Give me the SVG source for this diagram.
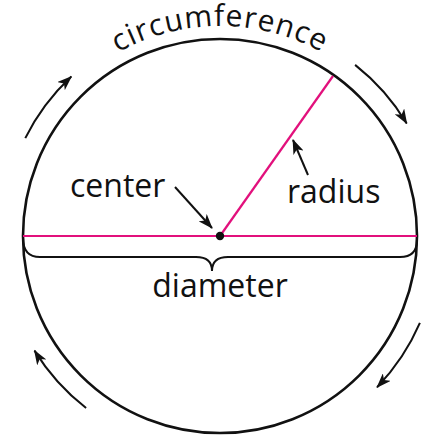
<svg xmlns="http://www.w3.org/2000/svg" width="442" height="442" viewBox="0 0 442 442">
<style>
.lbl{font-family:"Open Sans","Noto Sans","Liberation Sans",sans-serif;font-size:32px;fill:#111}
.arc{font-size:30px;letter-spacing:1px}
.blk{fill:none;stroke:#111;stroke-width:2}
.mag{fill:none;stroke:#e2107c;stroke-width:2.2}
</style>
<defs>
<marker id="ah" viewBox="0 0 15 11" refX="14" refY="5.5" markerWidth="15" markerHeight="11" markerUnits="userSpaceOnUse" orient="auto">
<path d="M0,0 L15,5.5 L0,11 L4,5.5 Z" fill="#111"/>
</marker>
<path id="circPath" d="M10,236 A210,210 0 0 1 430,236"/>
</defs>
<rect width="442" height="442" fill="#fff"/>
<g id="circle">
<circle cx="220" cy="236" r="197" fill="none" stroke="#111" stroke-width="2.6"/>
</g>
<g id="diameter">
<line class="mag" x1="23" y1="236" x2="417" y2="236"/>
<path class="blk" d="M23,238 Q23,257 40,257 H196 Q212,257 212,271 Q212,257 228,257 H400 Q417,257 417,240"/>
<text class="lbl" x="220" y="297" text-anchor="middle">diameter</text>
</g>
<g id="radius">
<line class="mag" x1="220" y1="236" x2="333" y2="76"/>
<text class="lbl" x="287" y="203">radius</text>
</g>
<g id="center">
<circle cx="220" cy="236" r="4.2" fill="#111"/>
<text class="lbl" x="70" y="197">center</text>
</g>
<g id="circumference">
<text class="lbl arc"><textPath href="#circPath" startOffset="50%" text-anchor="middle">circumference</textPath></text>
</g>
<g id="connectors">
<line class="blk" x1="175" y1="187" x2="212" y2="228" marker-end="url(#ah)"/>
<line class="blk" x1="308" y1="175" x2="293" y2="140" marker-end="url(#ah)"/>
<path class="blk" d="M25.3,138.1 A218,218 0 0 1 71.3,76.6" marker-end="url(#ah)"/>
<path class="blk" d="M355.1,64.9 A218,218 0 0 1 406.7,123.4" marker-end="url(#ah)"/>
<path class="blk" d="M419.9,322.9 A218,218 0 0 1 377.1,387.2" marker-end="url(#ah)"/>
<path class="blk" d="M86.1,408 A218,218 0 0 1 34.5,350.6" marker-end="url(#ah)"/>
</g>
</svg>
